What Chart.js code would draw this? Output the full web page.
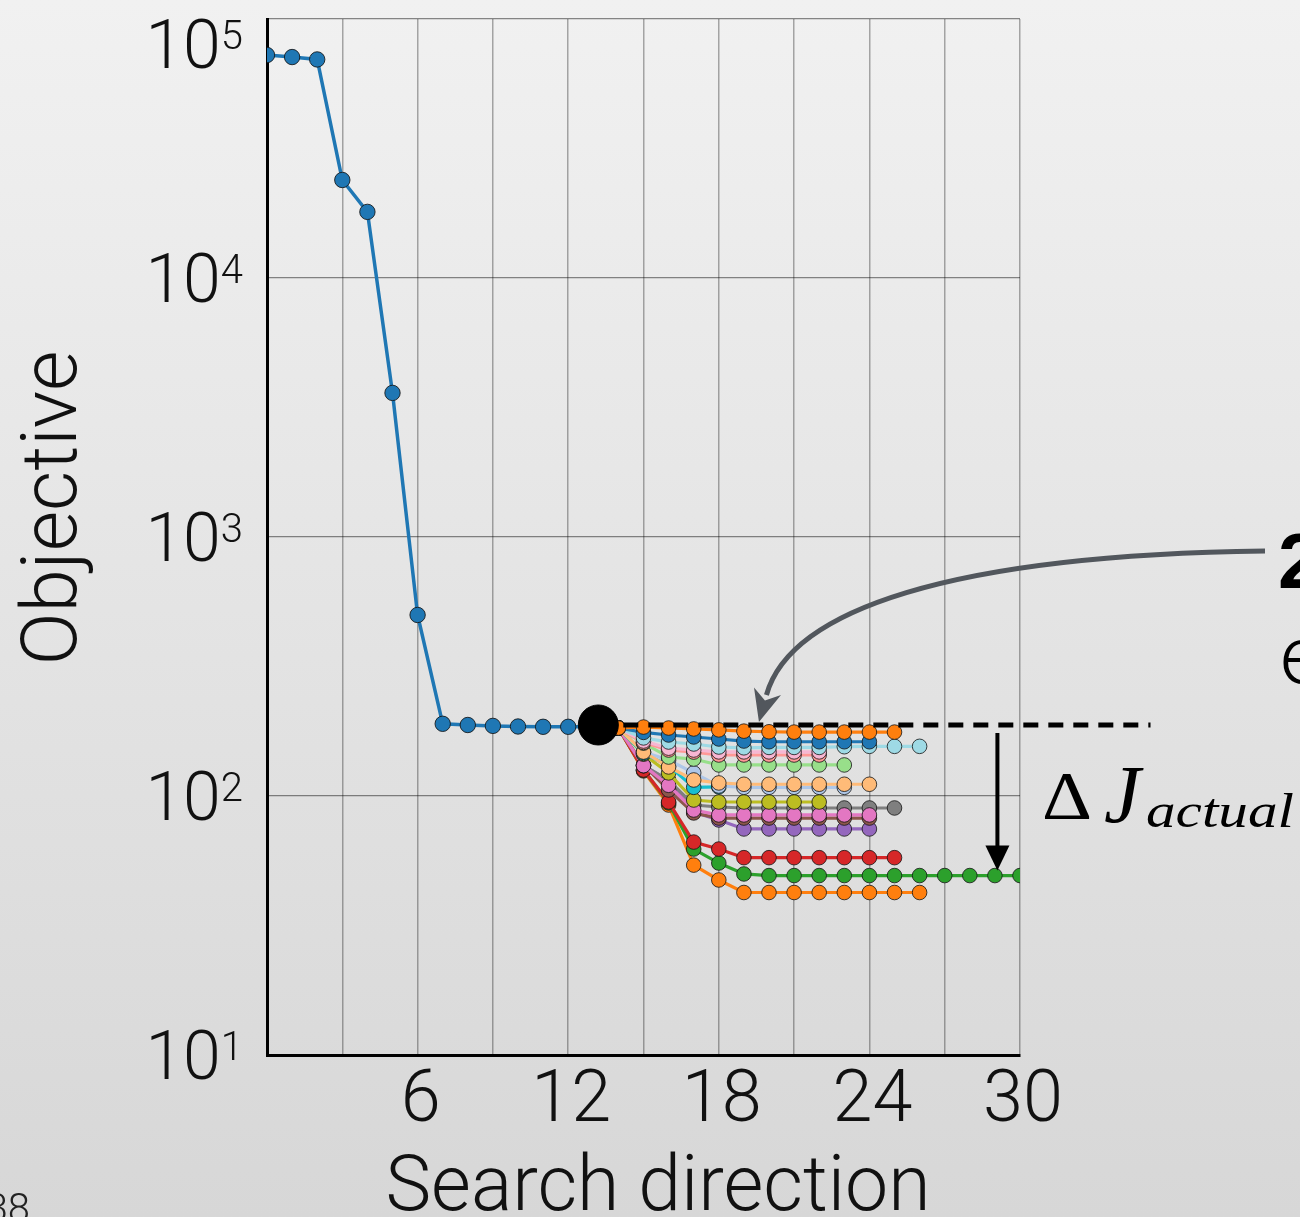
<!DOCTYPE html>
<html lang="en">
<head>
<meta charset="UTF-8">
<title>Objective vs search direction</title>
<script src="https://cdn.jsdelivr.net/npm/chart.js"></script>
<style>
  html, body { margin: 0; padding: 0; }
  body { width: 1300px; height: 1217px; overflow: hidden;
         background: linear-gradient(#f1f1f1, #d7d7d7); }
</style>
</head>
<body>
<canvas id="objChart" width="1300" height="1217"></canvas>
<script>
// main run: objective per search direction 0..13
const mainObjective = [72600, 71300, 69800, 23900, 18000, 3600, 500, 190, 188, 186.5, 185.5, 185, 185, 185];

// restart point and the reference level drawn as the dashed line
const restartAt = 13.2;
const restartValue = 188;
const dashedEnd = 35.2;

// branches, all leaving from direction 14
const branchStart = 14;
const orangeTop   = [183, 184.6, 183, 181.5, 180, 178, 177, 176.5, 176.5, 176.5, 176.5, 176.5];
const blueBr      = [183, 176, 172, 169, 166, 163, 162, 162, 162, 162, 162];
const lightCyan   = [183, 167.6, 161.6, 158.8, 154.6, 153.5, 154, 154, 154, 155, 155.5, 155.5, 155.5];
const pinkBr      = [183, 163, 153, 150.5, 148, 148, 148, 148, 148];
const salmonBr    = [183, 161, 150.5, 147.8, 144, 144, 144, 144, 144];
const lightGreen  = [183, 160, 141.4, 138.9, 131.8, 131.8, 131.8, 131.8, 131.8, 131.8];
const lightBlue   = [183, 147.8, 137.7, 122.8, 109.3, 108, 108, 108, 108, 108];
const lightOrange = [183, 147.8, 129.5, 115.3, 112.3, 111, 111, 111, 111, 111, 111];
const cyanBr      = [183, 146, 131, 108, 108.4];
const oliveBr     = [183, 145, 122.8, 96.5, 94.8, 94.8, 94.8, 94.8, 94.8];
const greyBr      = [183, 131, 115, 92.3, 90.7, 89.9, 89.9, 89.9, 89.9, 89.9, 89.9, 89.9];
const magentaBr   = [183, 131, 110, 88.3, 84.5, 84.5, 84.5, 84.5, 84.5, 84.5, 84.5];
const brownBr     = [183, 131.8, 105.5, 86, 82.2, 82.2, 82.2, 82.2, 82.2, 82.2, 82.2];
const purpleBr    = [183, 131, 115, 86.7, 80.8, 74.6, 74.6, 74.6, 74.6, 74.6, 74.6];
const redBr       = [183, 126, 94.8, 66.4, 62.4, 57.8, 57.8, 57.8, 57.8, 57.8, 57.8, 57.8];
const greenBr     = [183, 126, 94, 62.4, 55.1, 50, 49.3, 49.3, 49.3, 49.3, 49.3, 49.3, 49.3, 49.3, 49.3, 49.3, 49.3];
const orangeLow   = [183, 125, 92.3, 54.1, 47.4, 42.4, 42.4, 42.4, 42.4, 42.4, 42.4, 42.4, 42.4];

// axis ticks
const xTickLabels = [6, 12, 18, 24, 30];
const yDecades = [10, 100, 1000, 10000, 100000];

// where the drop arrow sits (search direction)
const dropAt = 29.1;
const curveTipAt = 19.6;

function pts(values, start) {
  return values.map((v, i) => ({ x: start + i, y: v }));
}

function branch(label, values, color, order) {
  return {
    label: label,
    data: pts(values, branchStart),
    borderColor: color,
    backgroundColor: color,
    pointBackgroundColor: color,
    pointBorderColor: 'rgba(20,20,20,0.8)',
    pointBorderWidth: 1,
    pointRadius: 7.3,
    borderWidth: 3.2,
    order: order,
    clip: 0
  };
}

const datasets = [
  {
    label: 'main',
    data: pts(mainObjective, 0),
    borderColor: '#1f77b4',
    backgroundColor: '#1f77b4',
    pointBorderColor: 'rgba(20,20,20,0.85)',
    pointBorderWidth: 1,
    pointRadius: 7.7,
    borderWidth: 3.5,
    order: 100,
    clip: 0
  },
  branch('orangeLow', orangeLow, '#ff7f0e', 17),
  branch('green', greenBr, '#2ca02c', 16),
  branch('red', redBr, '#d62728', 15),
  branch('purple', purpleBr, '#9467bd', 14),
  branch('grey', greyBr, '#7f7f7f', 13),
  branch('brown', brownBr, '#8c564b', 12.5),
  branch('magenta', magentaBr, '#e377c2', 12),
  branch('olive', oliveBr, '#bcbd22', 10),
  branch('cyan', cyanBr, '#17becf', 9),
  branch('lightBlue', lightBlue, '#aec7e8', 8),
  branch('lightOrange', lightOrange, '#ffbb78', 7),
  branch('lightGreen', lightGreen, '#98df8a', 6),
  branch('salmon', salmonBr, '#ff9896', 5),
  branch('pink', pinkBr, '#f7b6d2', 4),
  branch('lightCyan', lightCyan, '#9edae5', 3),
  branch('blue', blueBr, '#1f77b4', 2),
  branch('orangeTop', orangeTop, '#ff7f0e', 1),
  {
    label: 'reference',
    data: [{ x: restartAt, y: restartValue }, { x: dashedEnd, y: restartValue }],
    borderColor: '#000',
    borderWidth: 5,
    borderDash: [15, 10],
    pointRadius: 0,
    order: -5,
    clip: false
  },
  {
    label: 'restart',
    data: [{ x: restartAt, y: restartValue }],
    backgroundColor: '#000',
    pointBackgroundColor: '#000',
    pointBorderColor: '#000',
    pointRadius: 20,
    showLine: false,
    order: -10,
    clip: false
  }
];

// draw text squeezed or stretched to a given width
function fitText(ctx, text, x, y, width) {
  const w = ctx.measureText(text).width;
  ctx.save();
  ctx.translate(x, y);
  ctx.scale(width / w, 1);
  ctx.fillText(text, 0, 0);
  ctx.restore();
}

// labels, ticks and annotation arrows
const overlay = {
  id: 'overlay',
  afterDraw(chart) {
    const { ctx, scales: { x, y } } = chart;
    ctx.save();
    ctx.fillStyle = '#111';
    ctx.textBaseline = 'alphabetic';

    // y tick labels as 10^n
    yDecades.forEach((v, i) => {
      const py = y.getPixelForValue(v);
      const base = Math.max(py + 24, 68);
      const exp = String(i + 1);
      ctx.font = '300 40px Roboto';
      const expW = ctx.measureText(exp).width;
      ctx.font = '300 68px Roboto';
      const mainW = ctx.measureText('10').width;
      const right = 243;
      ctx.textAlign = 'left';
      ctx.fillText('10', right - expW - mainW, base);
      ctx.font = '300 40px Roboto';
      ctx.fillText(exp, right - expW, base - 19);
    });

    // x tick labels
    ctx.font = '300 72px Roboto';
    ctx.textAlign = 'center';
    xTickLabels.forEach(v => {
      ctx.fillText(String(v), x.getPixelForValue(v) + 3, 1121);
    });

    // axis titles
    ctx.font = '300 77px Roboto';
    ctx.fillText('Search direction', 658, 1210);
    ctx.save();
    ctx.translate(76, 508);
    ctx.rotate(-Math.PI / 2);
    ctx.font = '300 78px Roboto';
    ctx.fillText('Objective', 0, 0);
    ctx.restore();

    // drop arrow from the reference level down to the best branch
    const dx = x.getPixelForValue(dropAt);
    const dTop = y.getPixelForValue(restartValue) + 8;
    const dTip = y.getPixelForValue(greenBr[greenBr.length - 1]) - 5;
    ctx.strokeStyle = '#000';
    ctx.lineWidth = 4;
    ctx.beginPath();
    ctx.moveTo(dx, dTop);
    ctx.lineTo(dx, dTip - 20);
    ctx.stroke();
    ctx.fillStyle = '#000';
    ctx.beginPath();
    ctx.moveTo(dx - 12, dTip - 25);
    ctx.lineTo(dx + 12, dTip - 25);
    ctx.lineTo(dx, dTip);
    ctx.closePath();
    ctx.fill();

    // curved pointer from the side note to the reference level
    const tipX = x.getPixelForValue(curveTipAt);
    const tipY = y.getPixelForValue(restartValue) - 3;
    const p0 = [1265, 551], c1 = [950, 555], c2 = [790, 610];
    let ux = tipX - c2[0], uy = tipY - c2[1];
    const len = Math.hypot(ux, uy);
    ux /= len; uy /= len;
    const headLen = 32, headHalf = 14;
    const ex = tipX - ux * (headLen - 4), ey = tipY - uy * (headLen - 4);
    ctx.strokeStyle = '#52575d';
    ctx.lineWidth = 5;
    ctx.beginPath();
    ctx.moveTo(p0[0], p0[1]);
    ctx.bezierCurveTo(c1[0], c1[1], c2[0], c2[1], ex, ey);
    ctx.stroke();
    ctx.fillStyle = '#52575d';
    ctx.beginPath();
    ctx.moveTo(tipX, tipY);
    ctx.lineTo(tipX - ux * headLen - uy * headHalf, tipY - uy * headLen + ux * headHalf);
    ctx.lineTo(tipX - ux * headLen * 0.7, tipY - uy * headLen * 0.7);
    ctx.lineTo(tipX - ux * headLen + uy * headHalf, tipY - uy * headLen - ux * headHalf);
    ctx.closePath();
    ctx.fill();

    // side note text
    ctx.fillStyle = '#000';
    ctx.textAlign = 'left';
    ctx.font = 'bold 78px "Liberation Sans"';
    ctx.fillText('2', 1278, 588);
    ctx.font = '300 80px Roboto';
    ctx.fillText('e', 1280, 683);

    // delta J label
    ctx.font = '68px "Liberation Serif"';
    fitText(ctx, '\u0394', 1042, 818, 50);
    ctx.font = 'italic 82px "Liberation Serif"';
    ctx.fillText('J', 1104, 822);
    ctx.font = 'italic 48px "Liberation Serif"';
    fitText(ctx, 'actual', 1146, 827, 148);

    // slide number in the corner
    ctx.font = '300 40px Roboto';
    ctx.textAlign = 'right';
    ctx.fillStyle = '#222';
    ctx.fillText('38', 30, 1222);

    ctx.restore();
  }
};

new Chart(document.getElementById('objChart'), {
  type: 'line',
  data: { datasets: datasets },
  options: {
    responsive: false,
    animation: false,
    events: [],
    layout: { autoPadding: false, padding: { left: 267, right: 280, top: 19, bottom: 162 } },
    plugins: { legend: { display: false }, tooltip: { enabled: false } },
    scales: {
      x: {
        type: 'linear',
        min: 0,
        max: 30,
        ticks: { display: false, stepSize: 3 },
        grid: { color: 'rgba(0,0,0,0.32)', lineWidth: 1.5, drawTicks: false },
        border: { color: '#000', width: 3 }
      },
      y: {
        type: 'logarithmic',
        min: 10,
        max: 100000,
        ticks: { display: false },
        afterBuildTicks: scale => { scale.ticks = yDecades.map(v => ({ value: v })); },
        grid: { color: 'rgba(0,0,0,0.45)', lineWidth: 1.2, drawTicks: false },
        border: { color: '#000', width: 3 }
      }
    }
  },
  plugins: [overlay]
});
</script>
</body>
</html>
